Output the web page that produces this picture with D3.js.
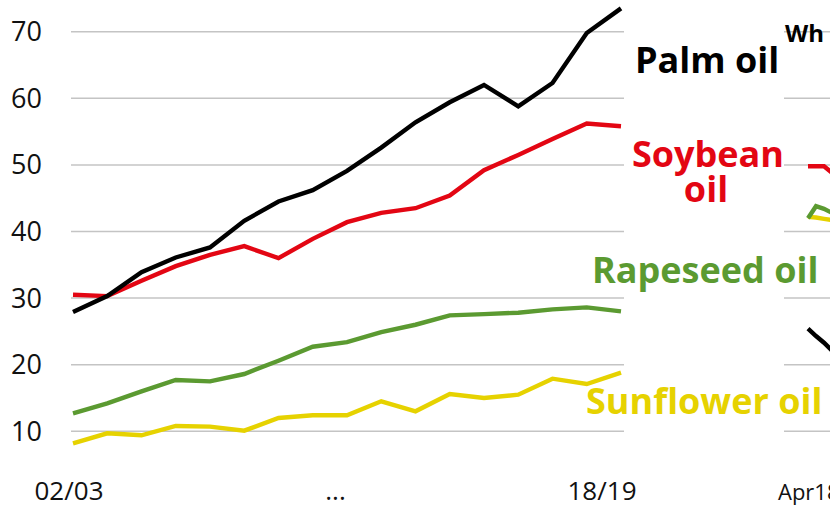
<!DOCTYPE html>
<html>
<head>
<meta charset="utf-8">
<script src="https://cdn.jsdelivr.net/npm/d3@7"></script>
<style>
  html, body { margin: 0; padding: 0; background: #fff; overflow: hidden; }
  svg { display: block; font-family: "Open Sans", "Noto Sans", sans-serif; }
</style>
</head>
<body>
<svg id="chart" width="830" height="506"></svg>
<script>
// ---- Data ----
const seasons = ["02/03","03/04","04/05","05/06","06/07","07/08","08/09","09/10","10/11",
                 "11/12","12/13","13/14","14/15","15/16","16/17","17/18","18/19"];
const palmOil      = [27.9, 30.3, 33.9, 36.1, 37.6, 41.6, 44.5, 46.2, 49.1, 52.6, 56.4, 59.4, 62.0, 58.8, 62.3, 69.8, 73.5];
const soybeanOil   = [30.5, 30.3, 32.6, 34.8, 36.5, 37.8, 36.0, 38.9, 41.4, 42.8, 43.5, 45.4, 49.2, 51.5, 53.9, 56.2, 55.8];
const rapeseedOil  = [12.7, 14.2, 16.0, 17.7, 17.5, 18.6, 20.6, 22.7, 23.4, 24.9, 26.0, 27.4, 27.6, 27.8, 28.3, 28.6, 28.0];
const sunflowerOil = [ 8.2,  9.7,  9.4, 10.8, 10.7, 10.1, 12.0, 12.4, 12.4, 14.5, 13.0, 15.6, 15.0, 15.5, 17.9, 17.1, 18.8];
const yTicks = [10, 20, 30, 40, 50, 60, 70];
const xTickLabels = ["02/03", "...", "18/19"];

// right (partially visible) panel
const months = ["Apr18", "May18", "Jun18", "Jul18"];
const rPalm      = [25.4, 24.3, 23.3, 22.1];
const rSoybean   = [49.8, 49.8, 49.8, 48.8];
const rRapeseed  = [42.0, 43.8, 43.4, 42.8];
const rSunflower = [42.2, 42.1, 41.9, 41.7];
const rightTitle = "Wh";

const colors = { palm: "#000000", soy: "#e30613", rape: "#5b9a31", sun: "#e6d200" };

// ---- Chart ----
const svg = d3.select("#chart");
const y = d3.scaleLinear().domain([10, 70]).range([431.3, 31.7]);
const x = d3.scalePoint().domain(seasons).range([73, 621]);
const xLab = d3.scalePoint().domain(xTickLabels).range([69, 602]);
const xr = d3.scalePoint().domain(months).range([808, 832]);

// gridlines left
svg.append("g").selectAll("line").data(yTicks).join("line")
  .attr("x1", 71).attr("x2", 624)
  .attr("y1", d => y(d)).attr("y2", d => y(d))
  .attr("stroke", "#c4c4c4").attr("stroke-width", 1.5);
// gridlines right
svg.append("g").selectAll("line").data(yTicks).join("line")
  .attr("x1", 784).attr("x2", 830)
  .attr("y1", d => y(d)).attr("y2", d => y(d))
  .attr("stroke", "#c4c4c4").attr("stroke-width", 1.5);

// y axis labels
svg.append("g").selectAll("text").data(yTicks).join("text")
  .attr("x", 42).attr("y", d => y(d)).attr("dy", "0.35em")
  .attr("text-anchor", "end")
  .attr("font-size", 27).attr("fill", "#111")
  .text(d => d);

// x axis labels
svg.append("g").selectAll("text").data(xTickLabels).join("text")
  .attr("x", d => xLab(d)).attr("y", 500)
  .attr("text-anchor", "middle")
  .attr("font-size", 26).attr("fill", "#111")
  .text(d => d);
svg.append("text").attr("x", xr(months[0]) - 30).attr("y", 500)
  .attr("font-size", 22).attr("fill", "#111").text(months[0]);

const line = d3.line().x((d, i) => x(seasons[i])).y(d => y(d));
const lineR = d3.line().x((d, i) => xr(months[i])).y(d => y(d));

const series = [
  [sunflowerOil, rSunflower, colors.sun],
  [rapeseedOil, rRapeseed, colors.rape],
  [soybeanOil, rSoybean, colors.soy],
  [palmOil, rPalm, colors.palm]
];
series.forEach(([l, r, c]) => {
  svg.append("path").attr("d", line(l)).attr("fill", "none")
    .attr("stroke", c).attr("stroke-width", 4.4).attr("stroke-linejoin", "miter");
  svg.append("path").attr("d", lineR(r)).attr("fill", "none")
    .attr("stroke", c).attr("stroke-width", 4.4);
});

// series labels
const lab = (t, xx, yy, c, anchor) => svg.append("text").attr("x", xx).attr("y", yy)
  .attr("text-anchor", anchor || "start").attr("font-weight", 700)
  .attr("font-size", 36).attr("fill", c).text(t);
lab("Palm oil", 635, 73, colors.palm);
lab("Soybean", 784, 167, colors.soy, "end");
lab("oil", 706, 202, colors.soy, "middle");
lab("Rapeseed oil", 592, 283, colors.rape);
lab("Sunflower oil", 586, 414, colors.sun);

svg.append("text").attr("x", 785).attr("y", 42)
  .attr("font-weight", 700).attr("font-size", 24).attr("fill", "#000").text(rightTitle);
</script>
</body>
</html>
